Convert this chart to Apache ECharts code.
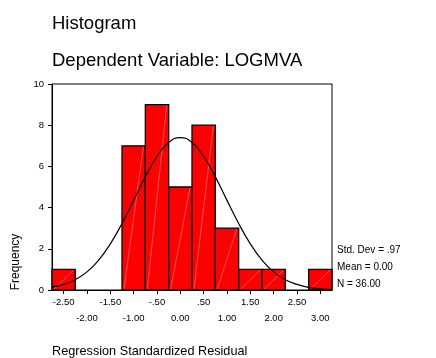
<!DOCTYPE html>
<html>
<head>
<meta charset="utf-8">
<script src="https://cdn.jsdelivr.net/npm/echarts@6/dist/echarts.min.js"></script>
<style>html,body{margin:0;padding:0;background:#fff}#c{width:436px;height:358px}</style>
</head>
<body>
<div id="c"></div>
<script>
const F = "'Liberation Sans',Arial,Helvetica,sans-serif";
const BLACK = '#000000', RED = '#FF0000', HATCH = 'rgba(255,190,190,0.75)';

// histogram bins (centre of each 0.5-wide bin) and counts
const binCenters = [-2.5, -1.0, -0.5, 0.0, 0.5, 1.0, 1.5, 2.0, 3.0];
const freq       = [1, 7, 9, 5, 8, 3, 1, 1, 1];
const binWidth = 0.5;

// normal curve
const curveX = [-2.75,-2.5,-2.25,-2,-1.75,-1.5,-1.25,-1,-0.75,-0.5,-0.25,0,0.25,0.5,0.75,1,1.25,1.5,1.75,2,2.25,2.5,2.75,3,3.25];
const curveY = [0.14,0.27,0.50,0.88,1.45,2.24,3.23,4.35,5.49,6.48,7.16,7.40,7.16,6.48,5.49,4.35,3.23,2.24,1.45,0.88,0.50,0.27,0.13,0.06,0.03];

// axis ticks
const xTicksAll   = [-2.5,-2,-1.5,-1,-0.5,0,0.5,1,1.5,2,2.5,3];
const xLabelsUp   = [-2.5,-1.5,-0.5,0.5,1.5,2.5];
const xLabelsDown = [-2,-1,0,1,2,3];
const yTicks = [0,2,4,6,8,10];

const stats = ['Std. Dev = .97', 'Mean = 0.00', 'N = 36.00'];

function fmt(v){
  if (v === 0) return '0.00';
  let s = Math.abs(v).toFixed(2);
  if (Math.abs(v) < 1) s = s.slice(1);
  return (v < 0 ? '-' : '') + s;
}

const chart = echarts.init(document.getElementById('c'), null, {renderer:'canvas'});
const xBase = {type:'value', min:-2.75, max:3.25, position:'bottom', splitLine:{show:false}};

chart.setOption({
  animation:false,
  grid:{left:52, right:104, top:84, bottom:68, show:true, borderColor:BLACK, borderWidth:1, containLabel:false},
  xAxis:[
    Object.assign({}, xBase, {
      axisLine:{show:true, onZero:false, lineStyle:{color:BLACK, width:1}},
      axisTick:{show:true, inside:false, length:4, customValues:xTicksAll, lineStyle:{color:BLACK}},
      axisLabel:{customValues:xLabelsUp, formatter:fmt, margin:7, fontFamily:F, fontSize:9.5, color:BLACK, showMinLabel:true, showMaxLabel:true}
    }),
    Object.assign({}, xBase, {
      axisLine:{show:false, onZero:false}, axisTick:{show:false},
      axisLabel:{customValues:xLabelsDown, formatter:fmt, margin:23, fontFamily:F, fontSize:9.5, color:BLACK}
    })
  ],
  yAxis:{type:'value', min:0, max:10, position:'left',
    axisLine:{show:true, onZero:false, lineStyle:{color:BLACK}},
    axisTick:{show:true, length:4, customValues:yTicks, lineStyle:{color:BLACK}},
    axisLabel:{customValues:yTicks, margin:8, fontFamily:F, fontSize:9.5, color:BLACK},
    splitLine:{show:false}},
  series:[
    {type:'custom', xAxisIndex:0, z:2,
      data: binCenters.map((c,i)=>[c, freq[i]]),
      renderItem:(params, api)=>{
        const c = api.value(0), n = api.value(1);
        const p0 = api.coord([c - binWidth/2, 0]);
        const p1 = api.coord([c + binWidth/2, n]);
        return {type:'group', children:[
          {type:'rect', shape:{x:p0[0], y:p1[1], width:p1[0]-p0[0], height:p0[1]-p1[1]},
            style:{fill:RED, stroke:BLACK, lineWidth:1.3}},
          {type:'line', shape:{x1:p0[0]+2, y1:p0[1]-1, x2:p1[0]-2, y2:p1[1]+1},
            style:{stroke:HATCH, lineWidth:0.6}}
        ]};
      }},
    {type:'line', xAxisIndex:0, z:3, data: curveX.map((x,i)=>[x, curveY[i]]),
      smooth:true, symbol:'none', lineStyle:{color:BLACK, width:1.2}}
  ],
  graphic:[
    {type:'text', x:52, y:24, style:{text:'Histogram', font:'18.5px '+F, fill:BLACK, textVerticalAlign:'middle'}},
    {type:'text', x:52, y:61, style:{text:'Dependent Variable: LOGMVA', font:'18.5px '+F, fill:BLACK, textVerticalAlign:'middle'}},
    {type:'text', x:52, y:351, style:{text:'Regression Standardized Residual', font:'12.7px '+F, fill:BLACK, textVerticalAlign:'middle'}},
    {type:'text', x:16, y:262, rotation:Math.PI/2, style:{text:'Frequency', font:'12px '+F, fill:BLACK, textAlign:'center', textVerticalAlign:'middle'}},
    {type:'text', x:337, y:250, style:{text:stats[0], font:'10px '+F, fill:BLACK, textVerticalAlign:'middle'}},
    {type:'text', x:337, y:267, style:{text:stats[1], font:'10px '+F, fill:BLACK, textVerticalAlign:'middle'}},
    {type:'text', x:337, y:284, style:{text:stats[2], font:'10px '+F, fill:BLACK, textVerticalAlign:'middle'}}
  ]
});
</script>
</body>
</html>
